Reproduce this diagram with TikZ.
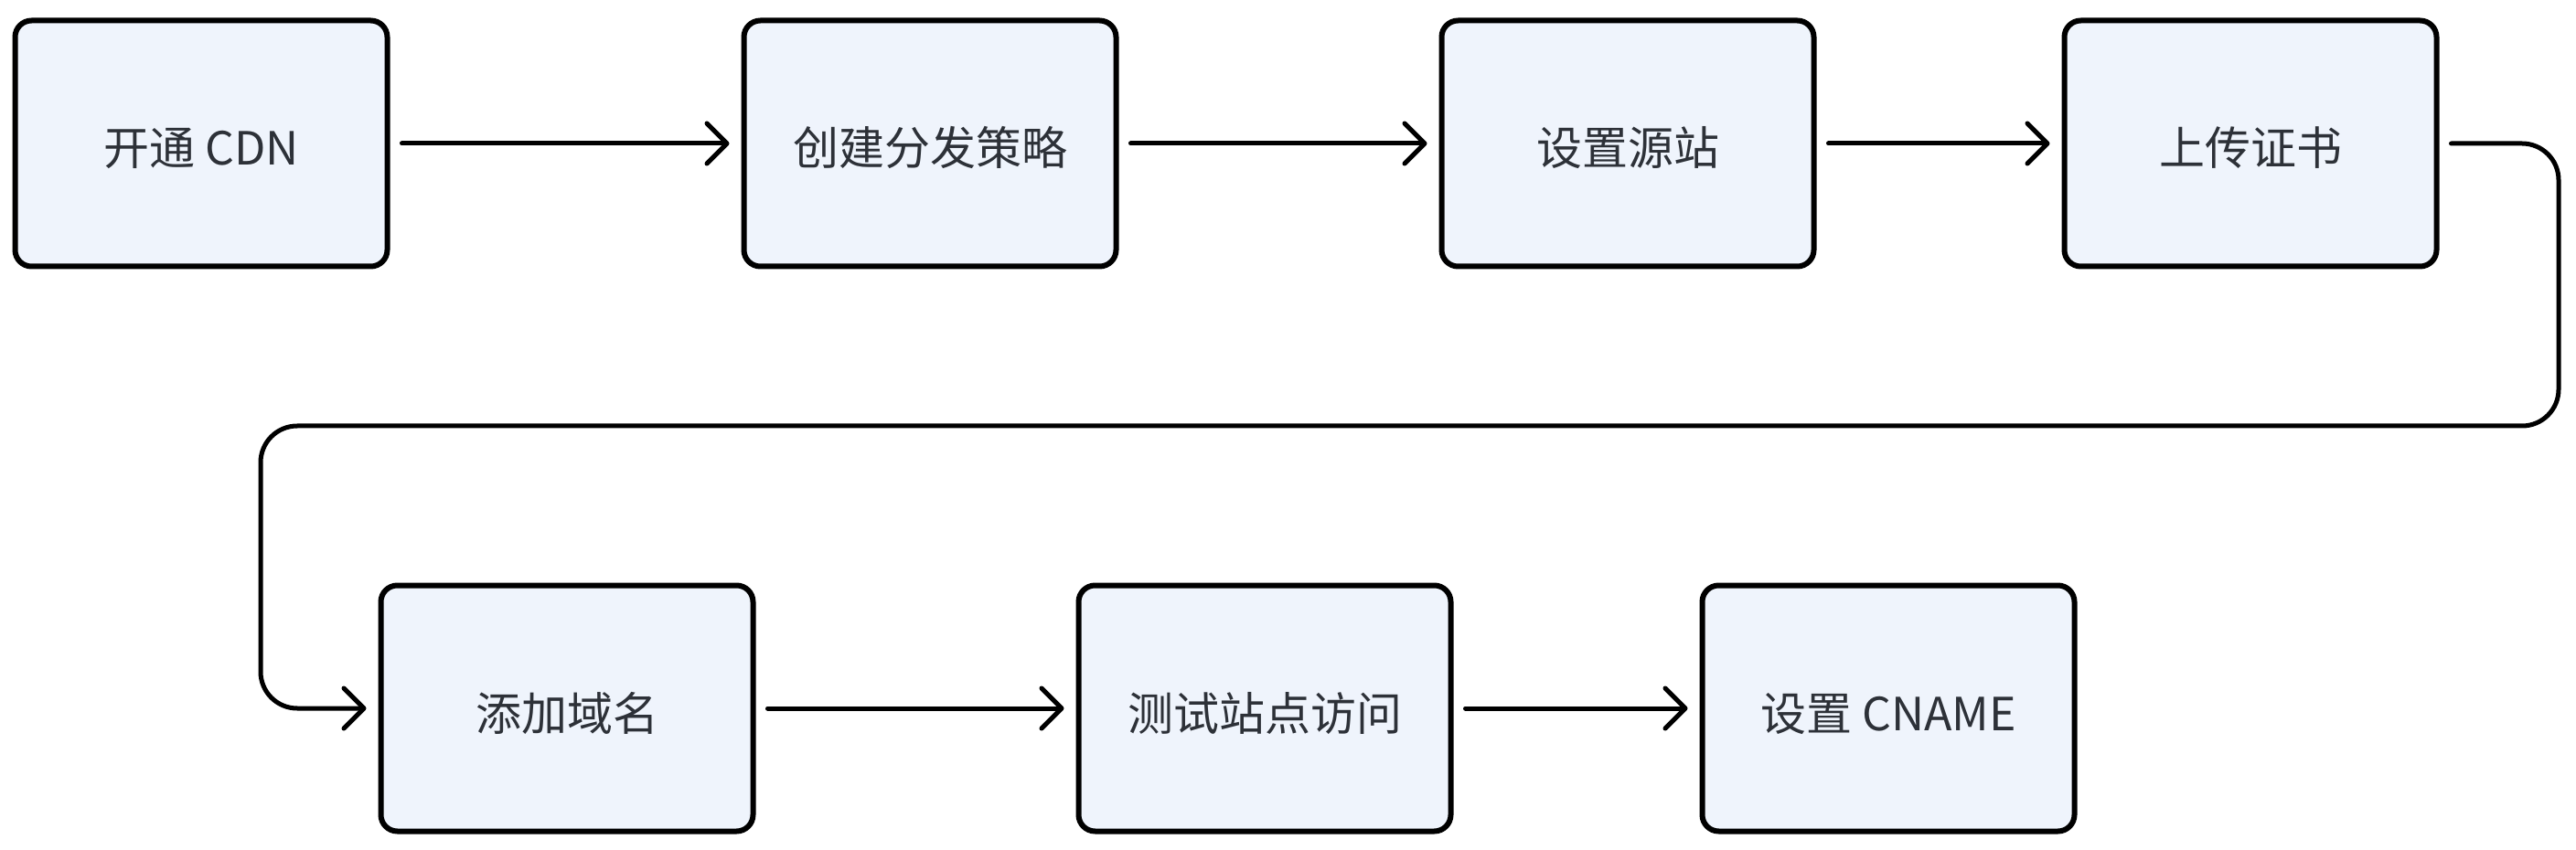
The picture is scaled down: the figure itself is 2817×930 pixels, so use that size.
\documentclass[tikz,border=0pt]{standalone}
\usepackage{fontspec}
\setmainfont{Noto Sans CJK SC}
\usetikzlibrary{arrows.meta}
\definecolor{boxfill}{HTML}{EFF4FC}
\definecolor{txt}{HTML}{2D3138}
\tikzset{
  stepbox/.style={draw=black, line width=3pt, fill=boxfill, rounded corners=9pt,
    minimum width=203.5pt, minimum height=134.5pt, inner sep=0pt, outer sep=0pt,
    text=txt, font=\fontsize{25pt}{30pt}\selectfont,
    text height=27pt, text depth=3pt},
  arr/.style={line width=2.5pt, line cap=round, line join=round,
    -{Straight Barb[length=11pt,width=22pt,round]}, shorten <=8pt, shorten >=8pt}
}
\begin{document}
\begin{tikzpicture}[x=0.5pt,y=-0.5pt]
\useasboundingbox (0,0) rectangle (2817,930);
\node[stepbox] (b1) at (220,157) {开通 CDN};
\node[stepbox] (b2) at (1017,157) {创建分发策略};
\node[stepbox] (b3) at (1780,157) {设置源站};
\node[stepbox] (b4) at (2461,157) {上传证书};
\node[stepbox] (b5) at (620,775) {添加域名};
\node[stepbox] (b6) at (1383,775) {测试站点访问};
\node[stepbox] (b7) at (2065,775) {设置 CNAME};
\coordinate (c1) at (2798,157);
\coordinate (c2) at (2798,466);
\coordinate (c3) at (285,466);
\coordinate (c4) at (285,775);
\draw[arr] (b1) -- (b2);
\draw[arr] (b2) -- (b3);
\draw[arr] (b3) -- (b4);
\draw[arr, rounded corners=20pt] (b4.east) -- (c1) -- (c2) -- (c3) -- (c4) -- (b5.west);
\draw[arr] (b5) -- (b6);
\draw[arr] (b6) -- (b7);
\end{tikzpicture}
\end{document}
